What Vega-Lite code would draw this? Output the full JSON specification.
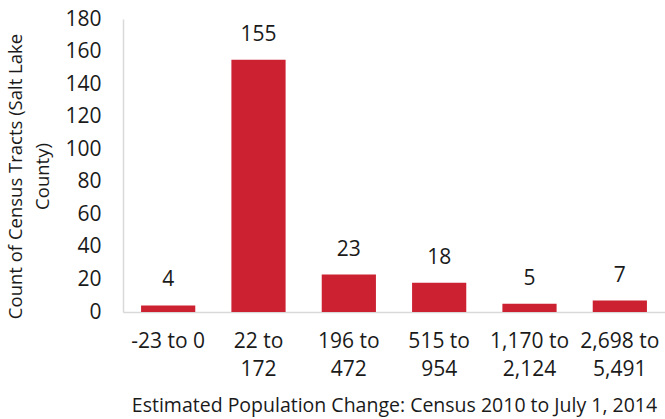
{
  "$schema": "https://vega.github.io/schema/vega-lite/v6.json",
  "autosize": "none",
  "width": 542,
  "height": 293,
  "padding": {"left": 123, "top": 19, "right": 0, "bottom": 107},
  "background": "white",
  "config": {
    "font": "Open Sans",
    "view": {"stroke": null},
    "axis": {"labelColor": "#1a1a1a", "titleColor": "#1a1a1a", "titleFontWeight": "normal"}
  },
  "data": {
    "values": [
      {"range": "-23 to 0", "tracts": 4},
      {"range": "22 to|172", "tracts": 155},
      {"range": "196 to|472", "tracts": 23},
      {"range": "515 to|954", "tracts": 18},
      {"range": "1,170 to|2,124", "tracts": 5},
      {"range": "2,698 to|5,491", "tracts": 7}
    ]
  },
  "encoding": {
    "x": {
      "field": "range",
      "type": "nominal",
      "sort": null,
      "scale": {"paddingInner": 0.4, "paddingOuter": 0.2},
      "axis": {
        "title": "Estimated Population Change: Census 2010 to July 1, 2014",
        "labelExpr": "split(datum.value, '|')",
        "labelAngle": 0,
        "labelFontSize": 21,
        "labelLineHeight": 28,
        "labelPadding": 18,
        "ticks": false,
        "domainColor": "#d9d9d9",
        "domainWidth": 1.5,
        "titleFontSize": 19.5,
        "titlePadding": 17
      }
    },
    "y": {
      "field": "tracts",
      "type": "quantitative",
      "scale": {"domain": [0, 180]},
      "axis": {
        "title": ["Count of Census Tracts (Salt Lake", "County)"],
        "values": [0, 20, 40, 60, 80, 100, 120, 140, 160, 180],
        "grid": false,
        "ticks": false,
        "labelFontSize": 21,
        "labelPadding": 22,
        "domainColor": "#d9d9d9",
        "domainWidth": 1.5,
        "titleFontSize": 18.5,
        "titleLineHeight": 27,
        "titleX": -98,
        "titleY": 157
      }
    }
  },
  "layer": [
    {"mark": {"type": "bar", "color": "#cc2131"}},
    {
      "mark": {"type": "text", "fontSize": 21, "color": "#1a1a1a", "baseline": "alphabetic", "dy": -19},
      "encoding": {"text": {"field": "tracts", "type": "quantitative"}}
    }
  ]
}
